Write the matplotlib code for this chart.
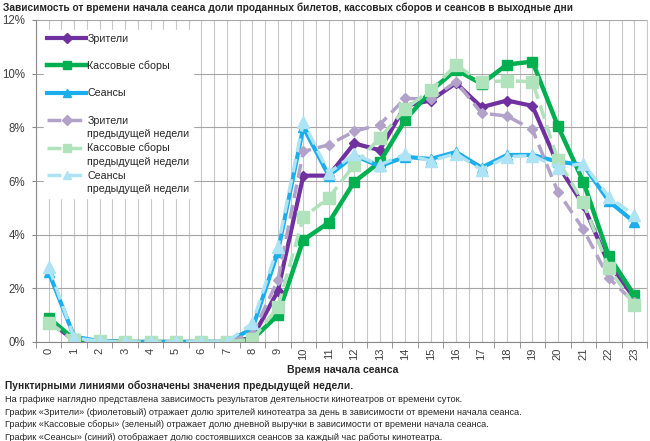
import matplotlib
matplotlib.use("Agg")
import matplotlib.pyplot as plt
from matplotlib.lines import Line2D
import numpy as np

plt.rcParams['font.family'] = ['Liberation Sans', 'DejaVu Sans']

hours = list(range(24))
hour_labels = [str(h) for h in hours]

# values in percent
viewers = [0.8, 0.05, 0.02, 0.0, 0.0, 0.0, 0.0, 0.0, 0.15, 1.9, 6.2, 6.2,
           7.4, 7.15, 8.8, 9.0, 9.65, 8.75, 9.0, 8.8, 6.6, 5.1, 2.9, 1.65]
revenue = [0.9, 0.1, 0.03, 0.0, 0.0, 0.0, 0.0, 0.0, 0.1, 1.0, 3.8, 4.45,
           5.97, 6.7, 8.27, 9.35, 10.15, 9.62, 10.34, 10.45, 8.05, 5.97, 3.2, 1.75]
sessions = [2.6, 0.2, 0.03, 0.0, 0.0, 0.0, 0.0, 0.0, 0.5, 3.35, 8.0, 6.2,
            6.95, 6.55, 6.9, 6.82, 7.08, 6.5, 6.97, 6.97, 6.72, 6.6, 5.25, 4.47]
viewers_prev = [0.75, 0.05, 0.02, 0.0, 0.0, 0.0, 0.0, 0.0, 0.3, 2.3, 7.1, 7.35,
                7.85, 8.1, 9.08, 9.05, 9.7, 8.53, 8.42, 7.92, 5.6, 4.2, 2.38, 1.48]
revenue_prev = [0.7, 0.08, 0.03, 0.0, 0.0, 0.0, 0.0, 0.0, 0.1, 1.3, 4.65, 5.37,
                6.6, 7.6, 8.68, 9.39, 10.32, 9.68, 9.74, 9.7, 6.78, 5.2, 2.75, 1.38]
sessions_prev = [2.8, 0.15, 0.03, 0.0, 0.0, 0.0, 0.0, 0.0, 0.7, 3.55, 8.2, 6.3,
                 7.0, 6.6, 7.0, 6.75, 7.02, 6.42, 6.9, 6.95, 6.5, 6.65, 5.4, 4.73]

title = ("Зависимость от времени начала сеанса доли проданных билетов, "
         "кассовых сборов и сеансов в выходные дни")
note_bold = "Пунктирными линиями обозначены значения предыдущей недели."
notes = [
    "На графике наглядно представлена зависимость результатов деятельности кинотеатров от времени суток.",
    "График «Зрители» (фиолетовый) отражает долю зрителей кинотеатра за день в зависимости от времени начала сеанса.",
    "График «Кассовые сборы» (зеленый) отражает долю дневной выручки в зависимости от времени начала сеанса.",
    "График «Сеансы» (синий) отображает долю состоявшихся сеансов за каждый час работы кинотеатра.",
]

PURPLE = '#7030A0'
GREEN = '#00B050'
BLUE = '#1AAEEC'
PURPLE_L = '#B2A2C9'
GREEN_L = '#B0E2BC'
BLUE_L = '#ADE3F4'

fig = plt.figure(figsize=(6.5, 4.41), dpi=100)
ax = fig.add_axes([36 / 650, 1 - 342 / 441, 611 / 650, 322 / 441])

ax.plot(hours, viewers, color=PURPLE, lw=3, marker='D', ms=5.5, label='Зрители')
ax.plot(hours, revenue, color=GREEN, lw=3.2, marker='s', ms=7.5, label='Кассовые сборы')
ax.plot(hours, sessions, color=BLUE, lw=3, marker='^', ms=7, label='Сеансы')
ax.plot(hours, viewers_prev, color=PURPLE_L, lw=2.5, ls=(0, (4, 2)), marker='D', ms=5.5)
ax.plot(hours, revenue_prev, color=GREEN_L, lw=2.5, ls=(0, (4, 2)), marker='s', ms=8)
ax.plot(hours, sessions_prev, color=BLUE_L, lw=2.5, ls=(0, (4, 2)), marker='^', ms=8)

ax.set_xlim(-0.5, 23.5)
ax.set_ylim(0, 12)
ax.set_yticks(np.arange(0, 13, 2))
ax.set_yticklabels([f"{v}%" for v in range(0, 13, 2)])
ax.set_xticks(hours)
ax.set_xticklabels(hour_labels, rotation=90)
ax.set_xticks(np.arange(-0.5, 24, 1), minor=True)
ax.tick_params(axis='x', which='major', length=0, pad=4, labelsize=8, colors='#404040')
ax.tick_params(axis='x', which='minor', length=4, color='#888888')
ax.tick_params(axis='y', length=3, pad=5, color='#888888', labelsize=8.3, labelcolor='#404040')
ax.grid(True, which='both', axis='x', color='#C8C8C8', lw=0.8)
ax.grid(True, which='major', axis='y', color='#A6A6A6', lw=0.8)
ax.set_axisbelow(True)
ax.spines['top'].set_visible(False)
ax.spines['right'].set_color('#C8C8C8')
ax.spines['left'].set_color('#888888')
ax.spines['bottom'].set_color('#888888')

# legend: Excel-like rows (prev-week labels wrap onto a second line)
blank = Line2D([], [], color='none')
handles = [
    Line2D([], [], color=PURPLE, lw=3, marker='D', ms=5), blank,
    Line2D([], [], color=GREEN, lw=3.2, marker='s', ms=6), blank,
    Line2D([], [], color=BLUE, lw=3, marker='^', ms=6), blank,
    Line2D([], [], color=PURPLE_L, lw=2.5, ls=(0, (4, 2)), marker='D', ms=5), blank,
    Line2D([], [], color=GREEN_L, lw=2.5, ls=(0, (4, 2)), marker='s', ms=6), blank,
    Line2D([], [], color=BLUE_L, lw=2.5, ls=(0, (4, 2)), marker='^', ms=6), blank,
]
labels = ['Зрители', '', 'Кассовые сборы', '', 'Сеансы', '',
          'Зрители', 'предыдущей недели', 'Кассовые сборы', 'предыдущей недели',
          'Сеансы', 'предыдущей недели']
leg = ax.legend(handles, labels, loc='upper left', bbox_to_anchor=(0.008, 0.978),
                frameon=True, fancybox=False, framealpha=1, edgecolor='white',
                facecolor='white', fontsize=7.7, labelspacing=0.34, handlelength=3.6,
                handletextpad=0.15, borderpad=0.3, borderaxespad=0.3)
for t in leg.get_texts():
    t.set_color('#262626')

fig.text(3 / 650, 1 - 8 / 441, title, fontsize=7.3, fontweight='bold', va='center', color='#262626')
fig.text(343 / 650, 1 - 370 / 441, "Время начала сеанса", fontsize=7.6, fontweight='bold',
         ha='center', va='center', color='#262626')
fig.text(5 / 650, 1 - 386 / 441, note_bold, fontsize=7.4, fontweight='bold', va='center', color='#262626')
for i, line in enumerate(notes):
    fig.text(5 / 650, 1 - (400 + i * 12.4) / 441, line, fontsize=6.55, va='center', color='#262626')

fig.savefig('out.png', dpi=100)
